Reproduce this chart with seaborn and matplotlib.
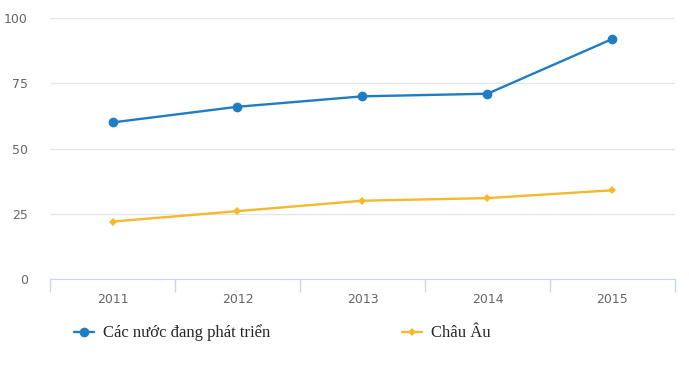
import matplotlib
matplotlib.use("Agg")
import matplotlib.pyplot as plt
import seaborn as sns
import pandas as pd
import numpy as np

years = ["2011", "2012", "2013", "2014", "2015"]
developing = [60, 66, 70, 71, 92]
europe = [22, 26, 30, 31, 34]
series_names = ["Các nước đang phát triển", "Châu Âu"]
colors = ["#1f7dc4", "#f5b82e"]

df = pd.DataFrame({
    "year": years * 2,
    "value": developing + europe,
    "series": [series_names[0]] * len(years) + [series_names[1]] * len(years),
})
df["x"] = df["year"].map({y: i for i, y in enumerate(years)})

sns.set_style("white")
fig = plt.figure(figsize=(6.89, 3.66), dpi=100)
ax = fig.add_axes([0.0726, 0.2377, 0.907, 0.713])

sns.lineplot(data=df, x="x", y="value", hue="series", style="series",
             palette=dict(zip(series_names, colors)),
             markers={series_names[0]: "o", series_names[1]: "D"},
             dashes=False, linewidth=1.7, ax=ax, legend=False)
for line, ms in zip(ax.get_lines(), [7, 4.5]):
    line.set_markersize(ms)
    line.set_markeredgewidth(0)

ax.set_xlim(-0.5, len(years) - 0.5)
ax.set_ylim(0, 100)
ax.set_yticks([0, 25, 50, 75, 100])
ax.set_xticks(range(len(years)))
ax.set_xticklabels(years)
ax.set_xticks(np.arange(-0.5, len(years)), minor=True)
ax.tick_params(axis="x", which="major", bottom=True, length=0, pad=10, labelsize=9, colors="#666666")
ax.tick_params(axis="x", which="minor", bottom=True, length=9, color="#ccd6eb", width=1)
ax.tick_params(axis="y", length=0, pad=16, labelsize=9, colors="#666666")
ax.grid(axis="y", color="#e6e6e6", linewidth=1)
ax.set_axisbelow(True)
for s in ["top", "right", "left"]:
    ax.spines[s].set_visible(False)
ax.spines["bottom"].set_color("#ccd6eb")
ax.set_xlabel("")
ax.set_ylabel("")

handles = [plt.Line2D([], [], color=c, marker=m, markersize=ms, markeredgewidth=0, linewidth=1.7)
           for c, m, ms in zip(colors, ["o", "D"], [7, 4.5])]
fig.legend(handles, series_names, loc="center left", bbox_to_anchor=(0.085, 0.09),
           ncol=2, frameon=False, columnspacing=7.9, handlelength=1.2, handletextpad=0.55,
           prop={"family": "Liberation Serif", "size": 12})

fig.savefig("out.png", dpi=100)
